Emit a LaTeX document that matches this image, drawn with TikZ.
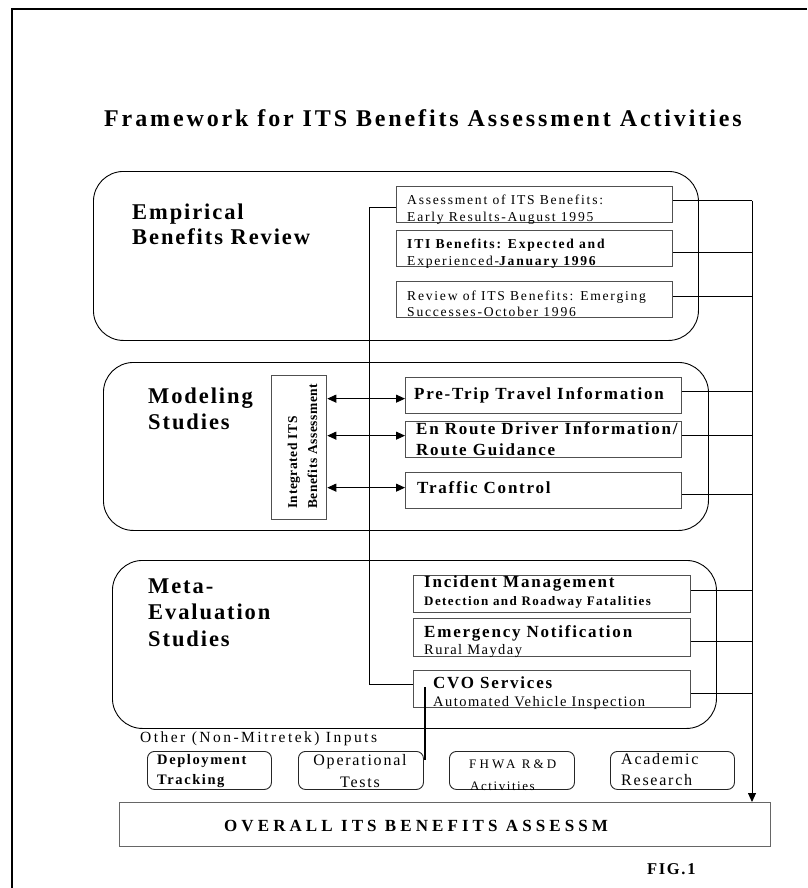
\documentclass[tikz,border=0pt]{standalone}
\usepackage{fontspec}
\setmainfont{Liberation Serif}
\usetikzlibrary{arrows.meta}
\definecolor{boxgray}{HTML}{505050}
\begin{document}
\begin{tikzpicture}[
  x=1pt, y=-1pt,
  big/.style={draw=black, line width=0.9pt, rounded corners=30pt, inner sep=0pt, anchor=north west},
  gbox/.style={draw=boxgray, line width=1.3pt, inner sep=0pt, anchor=north west},
  sbox/.style={draw=black!85, line width=0.9pt, rounded corners=7pt, inner sep=0pt, anchor=north west},
  conn/.style={draw=black, line width=0.9pt},
  dbl/.style={conn, {Triangle[length=9pt,width=8pt]}-{Triangle[length=9pt,width=8pt]}},
  txt/.style={inner sep=0pt, anchor=base west},
  ttl/.style={txt, font=\fontsize{24}{26}\selectfont\bfseries\addfontfeature{LetterSpace=12}},
  lab/.style={txt, font=\fontsize{22.5}{24}\selectfont\bfseries\addfontfeature{LetterSpace=8.5}},
  nrm/.style={txt, font=\fontsize{13.6}{15}\selectfont\addfontfeature{LetterSpace=13}},
  nbf/.style={txt, font=\fontsize{13.6}{15}\selectfont\bfseries\addfontfeature{LetterSpace=13}},
  bld/.style={txt, font=\fontsize{17}{19}\selectfont\bfseries\addfontfeature{LetterSpace=10.5}},
  sbf/.style={txt, font=\fontsize{13}{15}\selectfont\bfseries\addfontfeature{LetterSpace=11}},
  mid/.style={txt, font=\fontsize{14.5}{16}\selectfont\addfontfeature{LetterSpace=10}},
  inp/.style={txt, font=\fontsize{15.5}{17}\selectfont\addfontfeature{LetterSpace=16}},
  inb/.style={txt, font=\fontsize{14.5}{16}\selectfont\bfseries\addfontfeature{LetterSpace=11}},
  sin/.style={txt, font=\fontsize{16}{18}\selectfont\addfontfeature{LetterSpace=11}},
  rot/.style={txt, rotate=90, font=\fontsize{13.5}{15}\selectfont\bfseries\addfontfeature{LetterSpace=4}}
]
\useasboundingbox (0,0) rectangle (807,888);
% page frame
\draw[line width=2.5pt] (12,888) -- (12,9) -- (807,9);

% title
\node[ttl] (title) at (104,127) {Framework for ITS Benefits Assessment Activities};

% big rounded groups
\node[big, minimum width=605pt, minimum height=169pt] (E) at (93,171) {};
\node[big, minimum width=605pt, minimum height=168pt] (M) at (103,362) {};
\node[big, minimum width=604pt, minimum height=168pt] (X) at (112,560) {};

% group labels
\node[lab] (e1) at (132,219) {Empirical};
\node[lab] (e2) at (132,244) {Benefits Review};
\node[lab] (mo1) at (148,403) {Modeling};
\node[lab] (mo2) at (148,429) {Studies};
\node[lab] (me1) at (148,593) {Meta-};
\node[lab] (me2) at (148,619) {Evaluation};
\node[lab] (me3) at (148,646) {Studies};

% empirical boxes
\node[gbox, minimum width=276pt, minimum height=36pt] (b1) at (396,186) {};
\node[gbox, minimum width=276pt, minimum height=36pt] (b2) at (396,230) {};
\node[gbox, minimum width=276pt, minimum height=36pt] (b3) at (396,281) {};
\node[nrm] (b1a) at (407,204) {Assessment of ITS Benefits:};
\node[nrm] (b1b) at (407,221) {Early Results-August 1995};
\node[nbf] (b2a) at (407,248) {ITI Benefits: Expected and};
\node[nrm] (b2b) at (407,265) {Experienced-{\bfseries January 1996}};
\node[nrm] (b3a) at (407,300) {Review of ITS Benefits: Emerging};
\node[nrm] (b3b) at (407,316) {Successes-October 1996};

% modeling
\node[gbox, minimum width=55pt, minimum height=144pt] (ib) at (271,375) {};
\node[rot] (ib1) at (297,509) {Integrated ITS};
\node[rot] (ib2) at (317,509) {Benefits Assessment};
\node[gbox, minimum width=276pt, minimum height=36pt] (m1) at (405,377) {};
\node[gbox, minimum width=276pt, minimum height=36pt] (m2) at (405,421) {};
\node[gbox, minimum width=276pt, minimum height=36pt] (m3) at (405,472) {};
\node[bld] (m1a) at (414,399) {Pre-Trip Travel Information};
\node[bld] (m2a) at (416,434) {En Route Driver Information/};
\node[bld] (m2b) at (416,455) {Route Guidance};
\node[bld] (m3a) at (417,493) {Traffic Control};

% meta-evaluation
\node[gbox, minimum width=277pt, minimum height=37pt] (x1) at (413,575) {};
\node[gbox, minimum width=277pt, minimum height=38pt] (x2) at (413,618) {};
\node[gbox, minimum width=277pt, minimum height=37pt] (x3) at (413,670) {};
\node[bld] (x1a) at (424,587) {Incident Management};
\node[sbf] (x1b) at (424,605) {Detection and Roadway Fatalities};
\node[bld] (x2a) at (424,637) {Emergency Notification};
\node[mid] (x2b) at (424,654) {Rural Mayday};
\node[bld] (x3a) at (433,688) {CVO Services};
\node[mid] (x3b) at (433,706) {Automated Vehicle Inspection};

% other inputs
\node[inp] (oth) at (140,742) {Other (Non-Mitretek) Inputs};
\node[sbox, minimum width=124pt, minimum height=38pt] (s1) at (147,751) {};
\node[sbox, minimum width=125pt, minimum height=38pt] (s2) at (298,751) {};
\node[sbox, minimum width=125pt, minimum height=38pt] (s3) at (449,751) {};
\node[sbox, minimum width=124pt, minimum height=38pt] (s4) at (610,751) {};
\node[inb] (s1a) at (157,764) {Deployment};
\node[inb] (s1b) at (157,784) {Tracking};
\node[sin, anchor=base] (s2a) at (360,765) {Operational};
\node[sin, anchor=base] (s2b) at (360,787) {Tests};
\node[txt, font=\fontsize{13}{15}\selectfont\addfontfeature{LetterSpace=24}] (s3a) at (469,768) {FHWA R\&D};
\node[txt, font=\fontsize{13}{15}\selectfont\addfontfeature{LetterSpace=12}] (s3b) at (470,790) {Activities};
\node[sin] (s4a) at (621,764) {Academic};
\node[sin] (s4b) at (621,785) {Research};

% overall
\node[gbox, line width=1.1pt, draw=black!60, minimum width=651pt, minimum height=44pt] (ov) at (119,802) {};
\node[txt, font=\fontsize{17}{19}\selectfont\bfseries\addfontfeature{LetterSpace=24}] (ovt) at (224,831) {OVERALL ITS BENEFITS ASSESSM};

% figure label
\node[txt, font=\fontsize{16.5}{18}\selectfont\bfseries\addfontfeature{LetterSpace=10}] (fig) at (647,874) {FIG.1};

% right collector bus
\coordinate (bus) at (752,0);
\coordinate (r1) at ([yshift=4pt]b1.east);
\coordinate (r2) at ([yshift=-4pt]b2.east);
\coordinate (r3) at ([yshift=3pt]b3.east);
\coordinate (r4) at ([yshift=4pt]m1.east);
\coordinate (r5) at ([yshift=4pt]m2.east);
\coordinate (r6) at ([yshift=-4pt]m3.east);
\coordinate (r7) at ([yshift=4pt]x1.east);
\coordinate (r8) at ([yshift=-4pt]x2.east);
\coordinate (r9) at ([yshift=-4pt]x3.east);
\foreach \r in {r1,r2,r3,r4,r5,r6,r7,r8,r9}
  \draw[conn] (\r) -- (\r -| bus);
\draw[conn, -{Triangle[length=9pt,width=8pt]}] (r1 -| bus) -- (bus |- ov.north);

% left loop from first report to CVO services
\coordinate (lp) at (369,0);
\coordinate (l0) at ([yshift=-3pt]b1.west);
\coordinate (c1) at ([yshift=4.5pt]x3.west);
\draw[conn] (l0) -| (lp |- c1) -- (c1);

% double arrows
\coordinate (d1) at ([yshift=-3pt]m1.west);
\coordinate (d2) at ([yshift=4pt]m2.west);
\coordinate (d3) at ([yshift=3pt]m3.west);
\draw[dbl] (ib.east |- d1) -- (d1);
\draw[dbl] (ib.east |- d2) -- (d2);
\draw[dbl] (ib.east |- d3) -- (d3);

% CVO to operational tests
\coordinate (cv) at (425,687);
\coordinate (ot) at (425,760);
\draw[line width=1.8pt] (cv) -- (ot);
\end{tikzpicture}
\end{document}
